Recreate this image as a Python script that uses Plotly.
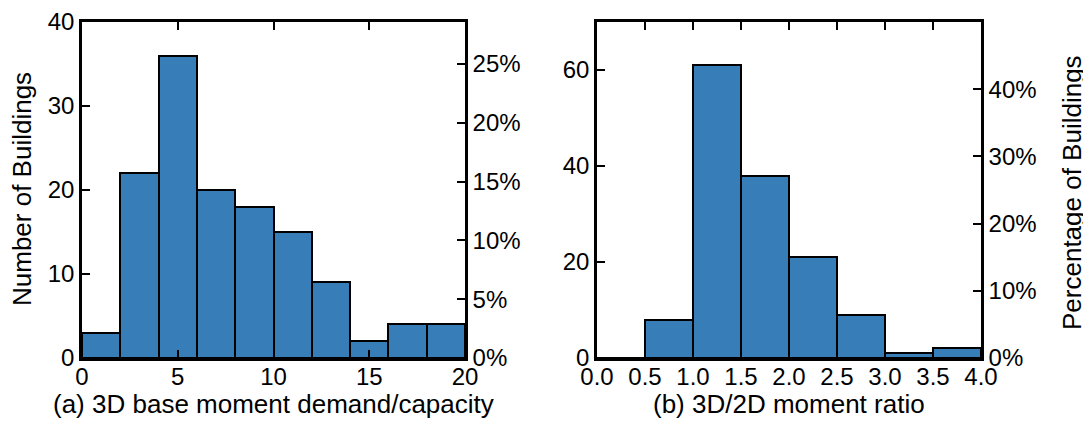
import plotly.graph_objects as go

# ---- data ----
left_edges = [0, 2, 4, 6, 8, 10, 12, 14, 16, 18, 20]
left_counts = [3, 22, 36, 20, 18, 15, 9, 2, 4, 4]
right_edges = [0.0, 0.5, 1.0, 1.5, 2.0, 2.5, 3.0, 3.5, 4.0]
right_counts = [0, 8, 61, 38, 21, 9, 1, 2]
total_buildings = 140
left_xticks = [0, 5, 10, 15, 20]
right_xticks = [0.0, 0.5, 1.0, 1.5, 2.0, 2.5, 3.0, 3.5, 4.0]
left_pct_ticks = [0, 5, 10, 15, 20, 25]
right_pct_ticks = [0, 10, 20, 30, 40]

BAR = "#377eb8"
FONT = "Liberation Sans, Arial, sans-serif"
TICK_SIZE = 24
TITLE_SIZE = 26


def centers(edges):
    return [(a + b) / 2 for a, b in zip(edges[:-1], edges[1:])]


def widths(edges):
    return [b - a for a, b in zip(edges[:-1], edges[1:])]


fig = go.Figure()
fig.add_trace(go.Bar(x=centers(left_edges), y=left_counts, width=widths(left_edges),
                     marker=dict(color=BAR, line=dict(color="black", width=2)),
                     xaxis="x", yaxis="y", hoverinfo="skip"))
fig.add_trace(go.Scatter(x=centers(left_edges),
                         y=[c / total_buildings * 100 for c in left_counts],
                         mode="markers", marker=dict(opacity=0), xaxis="x", yaxis="y2",
                         hoverinfo="skip"))
fig.add_trace(go.Bar(x=centers(right_edges), y=right_counts, width=widths(right_edges),
                     marker=dict(color=BAR, line=dict(color="black", width=2)),
                     xaxis="x3", yaxis="y3", hoverinfo="skip"))
fig.add_trace(go.Scatter(x=centers(right_edges),
                         y=[c / total_buildings * 100 for c in right_counts],
                         mode="markers", marker=dict(opacity=0), xaxis="x3", yaxis="y4",
                         hoverinfo="skip"))

# page has an 8px body margin; figure is sized to fit inside the window
OFF = 8
W, H = 1083, 410


def px(x):
    return (x - OFF) / W


def py(y):
    return 1 - (y - OFF) / H


ydom = [py(358), py(22)]
ldom = [px(82), px(465)]
rdom = [px(597), px(981)]

common = dict(showline=True, linecolor="black", linewidth=2.5, ticks="inside",
              ticklen=8, tickwidth=1.5, tickcolor="black", showgrid=False,
              zeroline=False, automargin=False,
              tickfont=dict(size=TICK_SIZE, color="black", family=FONT))

title_font = dict(size=TITLE_SIZE, color="black", family=FONT)

fig.update_layout(
    width=W, height=H, margin=dict(l=0, r=0, t=0, b=0),
    paper_bgcolor="white", plot_bgcolor="white", showlegend=False, bargap=0,
    font=dict(family=FONT, size=TICK_SIZE, color="black"),
    xaxis=dict(domain=ldom, anchor="y", range=[0, 20], tickvals=left_xticks,
               mirror="ticks", ticklabelstandoff=-5, **common),
    yaxis=dict(domain=ydom, anchor="x", range=[0, 40], dtick=10, **common),
    yaxis2=dict(overlaying="y", side="right", anchor="x",
                range=[0, 40 / total_buildings * 100], tickvals=left_pct_ticks,
                ticktext=[f"{v}%" for v in left_pct_ticks], **common),
    xaxis3=dict(domain=rdom, anchor="y3", range=[0, 4], tickvals=right_xticks,
                ticktext=[f"{v:.1f}" for v in right_xticks], mirror="ticks",
                ticklabelstandoff=-5, **common),
    yaxis3=dict(domain=ydom, anchor="x3", range=[0, 70], tickvals=[0, 20, 40, 60], **common),
    yaxis4=dict(overlaying="y3", side="right", anchor="x3",
                range=[0, 70 / total_buildings * 100], tickvals=right_pct_ticks,
                ticktext=[f"{v}%" for v in right_pct_ticks], **common),
    annotations=[
        dict(text="(a) 3D base moment demand/capacity", xref="paper", yref="paper",
             x=sum(ldom) / 2, y=py(404), xanchor="center", yanchor="middle",
             showarrow=False, font=title_font),
        dict(text="(b) 3D/2D moment ratio", xref="paper", yref="paper",
             x=sum(rdom) / 2, y=py(404), xanchor="center", yanchor="middle",
             showarrow=False, font=title_font),
        dict(text="Number of Buildings", xref="paper", yref="paper",
             x=px(22), y=py(189), xanchor="center", yanchor="middle",
             textangle=-90, showarrow=False, font=title_font),
        dict(text="Percentage of Buildings", xref="paper", yref="paper",
             x=px(1072), y=py(193), xanchor="center", yanchor="middle",
             textangle=-90, showarrow=False, font=title_font),
    ],
)

fig.write_html("out.html")
